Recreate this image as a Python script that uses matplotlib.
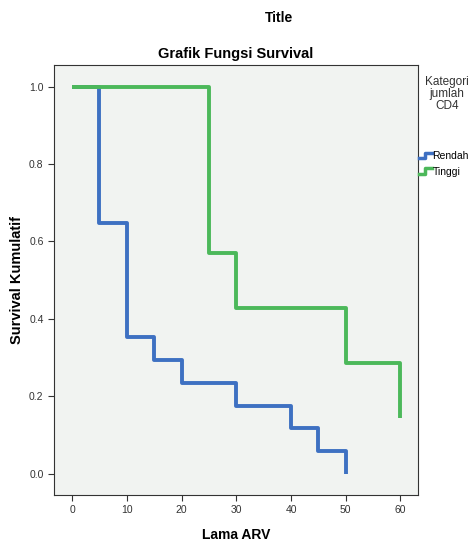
import matplotlib
matplotlib.use("Agg")
import matplotlib.pyplot as plt
from matplotlib.lines import Line2D
from matplotlib.legend_handler import HandlerBase

plt.rcParams['font.family'] = ['Liberation Sans', 'DejaVu Sans']

# Data
rendah_time = [0, 5, 10, 15, 20, 30, 40, 45, 50]
rendah_surv = [1.0, 0.647, 0.353, 0.294, 0.235, 0.176, 0.118, 0.059, 0.0]
tinggi_time = [0, 25, 30, 50, 60]
tinggi_surv = [1.0, 0.571, 0.429, 0.286, 0.143]
series_labels = ["Rendah", "Tinggi"]
x_ticks = [0, 10, 20, 30, 40, 50, 60]
y_ticks = [0.0, 0.2, 0.4, 0.6, 0.8, 1.0]

blue = "#3e70c2"
green = "#4cb85a"

fig = plt.figure(figsize=(4.73, 5.44), dpi=100)
ax = fig.add_axes([54/473, 49/544, 364/473, 430/544])
ax.set_facecolor("#f1f3f1")

ax.step(rendah_time, rendah_surv, where='post', color=blue, lw=2.8, solid_capstyle='butt')
ax.step(tinggi_time, tinggi_surv, where='post', color=green, lw=2.8, solid_capstyle='butt')

ax.set_xlim(-3.3, 63.2)
ax.set_ylim(-0.055, 1.056)
ax.set_xticks(x_ticks)
ax.set_yticks(y_ticks)
ax.set_xticklabels([str(v) for v in x_ticks])
ax.set_yticklabels([f"{v:.1f}" for v in y_ticks])
ax.tick_params(labelsize=7.5, length=4, width=0.8, color="#333333", labelcolor="#333333")
for s in ax.spines.values():
    s.set_color("#333333")
    s.set_linewidth(0.8)

ax.set_xlabel("Lama ARV", fontsize=10, fontweight='bold', labelpad=9)
ax.set_ylabel("Survival Kumulatif", fontsize=10.5, fontweight='bold', labelpad=4)
ax.set_title("Grafik Fungsi Survival", fontsize=10.5, fontweight='bold', pad=5)
fig.text(279/473, 1 - 18/544, "Title", ha='center', va='center', fontsize=10, fontweight='bold')


class StepHandler(HandlerBase):
    def create_artists(self, legend, orig_handle, xdescent, ydescent, width, height, fontsize, trans):
        x0 = -xdescent
        y0 = -ydescent
        xs = [x0, x0 + width * 0.5, x0 + width * 0.5, x0 + width]
        ys = [y0 + height * 0.15, y0 + height * 0.15, y0 + height * 0.85, y0 + height * 0.85]
        l = Line2D(xs, ys, color=orig_handle.get_color(), lw=2.5, transform=trans)
        return [l]


handles = [Line2D([], [], color=blue), Line2D([], [], color=green)]
leg = fig.legend(handles, series_labels, loc='upper left', bbox_to_anchor=(419/473, 1 - 151/544),
                 handler_map={Line2D: StepHandler()}, frameon=False, fontsize=7.5,
                 handlelength=1.2, handleheight=0.8, handletextpad=0.1, labelspacing=0.55,
                 borderpad=0, borderaxespad=0)
fig.text(447/473, 1 - 94/544, "Kategori\njumlah\nCD4", ha='center', va='center', fontsize=8.5,
         color="#333333", linespacing=0.95)

fig.savefig("out.png", dpi=100, facecolor="white")
